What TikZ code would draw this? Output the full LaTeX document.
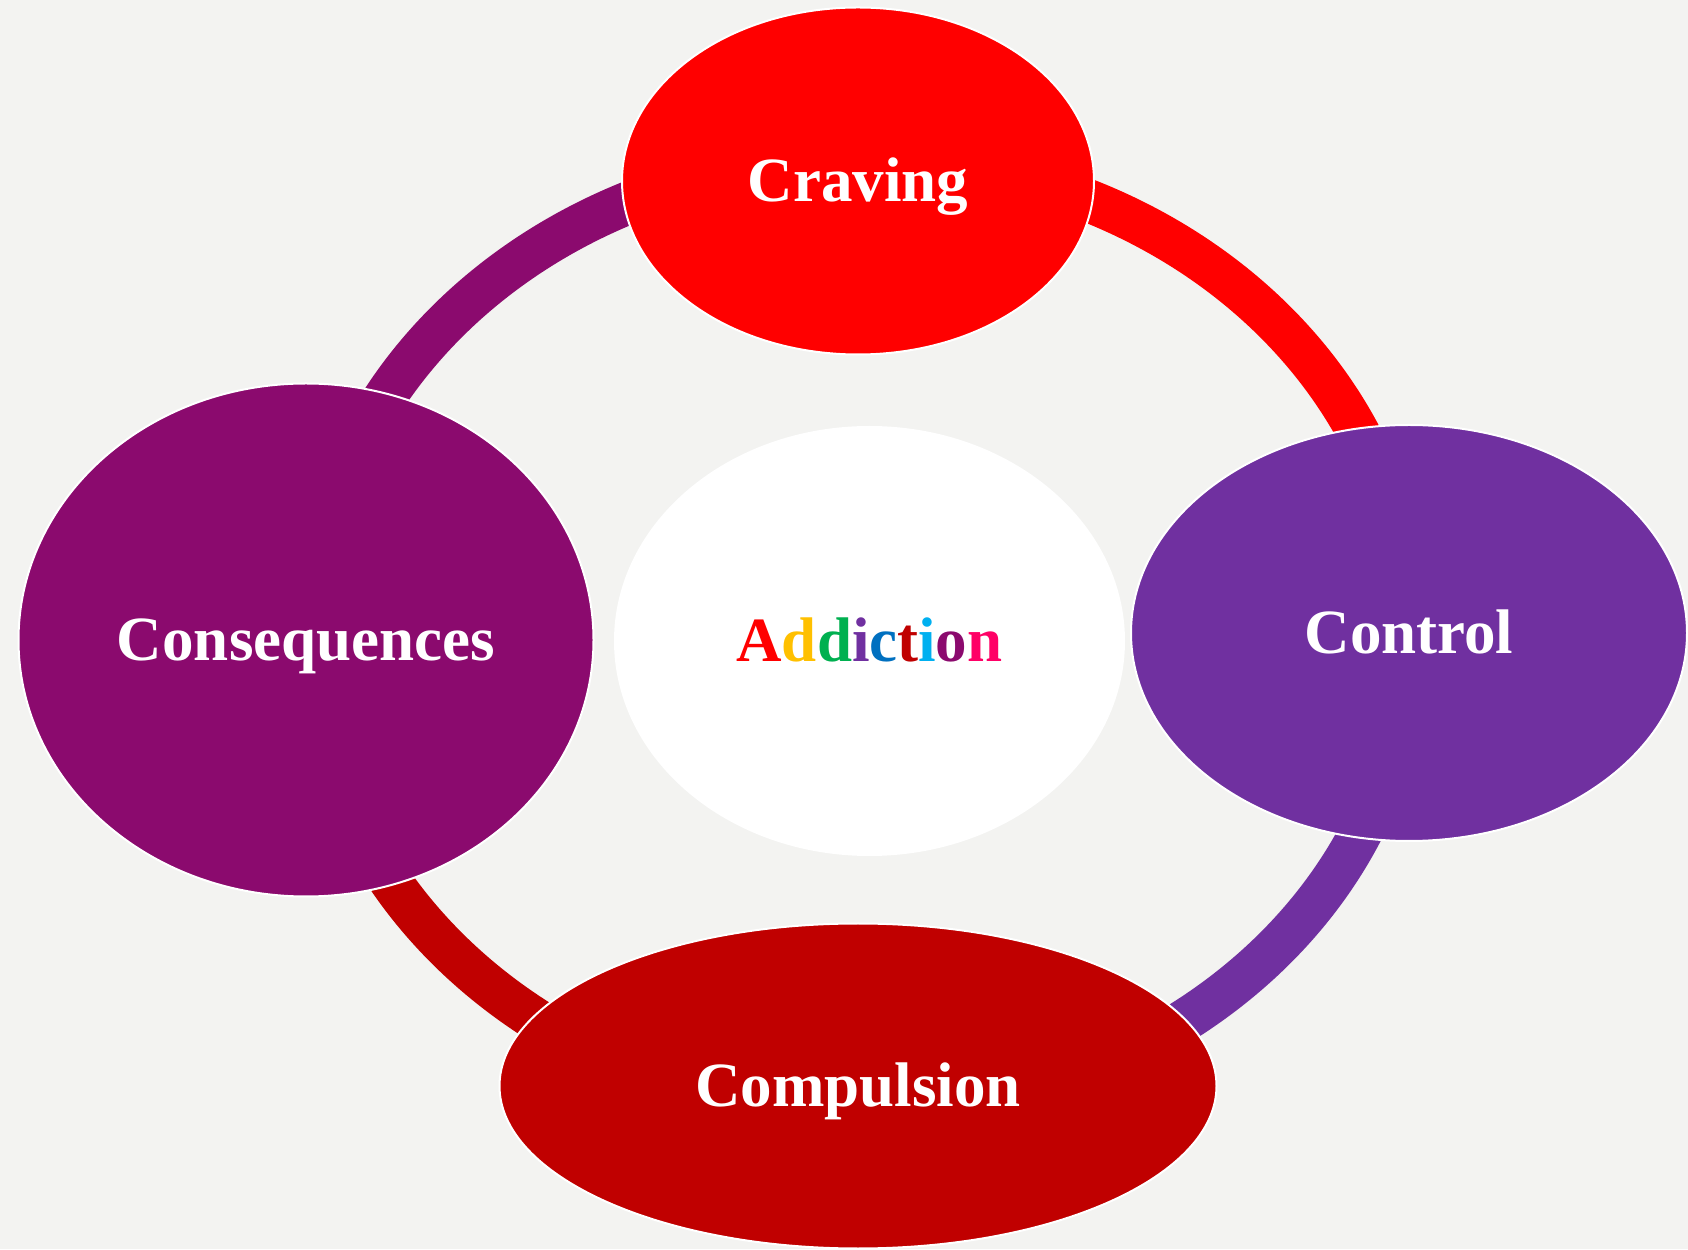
\documentclass[tikz,border=0pt]{standalone}
\usepackage{fontspec}
\setmainfont{Liberation Serif}
\usepackage{tikz}
\usetikzlibrary{shapes.geometric}

\definecolor{pagegrey}{HTML}{F3F3F1}
\definecolor{cravingred}{HTML}{FF0000}
\definecolor{conseqpurple}{HTML}{8B0A6E}
\definecolor{controlpurple}{HTML}{7030A0}
\definecolor{compulsionred}{HTML}{C00000}
\definecolor{addgold}{HTML}{FFC000}
\definecolor{addgreen}{HTML}{00B050}
\definecolor{addblue}{HTML}{0070C0}
\definecolor{addcyan}{HTML}{00B0F0}
\definecolor{addpink}{HTML}{FF0066}

\begin{document}
\begin{tikzpicture}[x=0.5pt,y=0.5pt,
    phase/.style={ellipse,draw=white,line width=1pt,inner sep=0pt,text=white,
      font=\fontsize{31.5}{38}\selectfont\bfseries,text height=20.8pt,text depth=0pt},
    ringpart/.style={line width=21.5pt},
    ringarc/.style={x radius=549,y radius=477}]

  \fill [pagegrey] (0,0) rectangle (1688,1249);
  \useasboundingbox (0,0) rectangle (1688,1249);

  \coordinate (hub) at (861,614);
  \path (hub) +(0:549 and 477)   coordinate (ring_e)
              +(90:549 and 477)  coordinate (ring_n)
              +(180:549 and 477) coordinate (ring_w)
              +(270:549 and 477) coordinate (ring_s);

  \draw [ringpart,conseqpurple]  (ring_w) arc [ringarc,start angle=180,end angle=90];
  \draw [ringpart,cravingred]    (ring_n) arc [ringarc,start angle=90,end angle=0];
  \draw [ringpart,controlpurple] (ring_e) arc [ringarc,start angle=0,end angle=-90];
  \draw [ringpart,compulsionred] (ring_s) arc [ringarc,start angle=270,end angle=180];

  \node [phase,fill=white,draw=none,minimum width=255.5pt,minimum height=215pt] (addiction) at (869.5,608)
    {\textcolor{cravingred}{A}\textcolor{addgold}{d}\textcolor{addgreen}{d}\textcolor{controlpurple}{i}\textcolor{addblue}{c}\textcolor{compulsionred}{t}\textcolor{addcyan}{i}\textcolor{conseqpurple}{o}\textcolor{addpink}{n}};

  \node [phase,fill=cravingred,minimum width=236pt,minimum height=173.5pt]      (craving)      at (858,1068) {Craving};
  \node [phase,fill=controlpurple,minimum width=278pt,minimum height=208pt]     (control)      at (1409,616) {Control};
  \node [phase,fill=compulsionred,minimum width=358.5pt,minimum height=162.5pt] (compulsion)   at (858,163)  {Compulsion};
  \node [phase,fill=conseqpurple,minimum width=287.5pt,minimum height=256.5pt]  (consequences) at (306,609)  {Consequences};

\end{tikzpicture}
\end{document}
